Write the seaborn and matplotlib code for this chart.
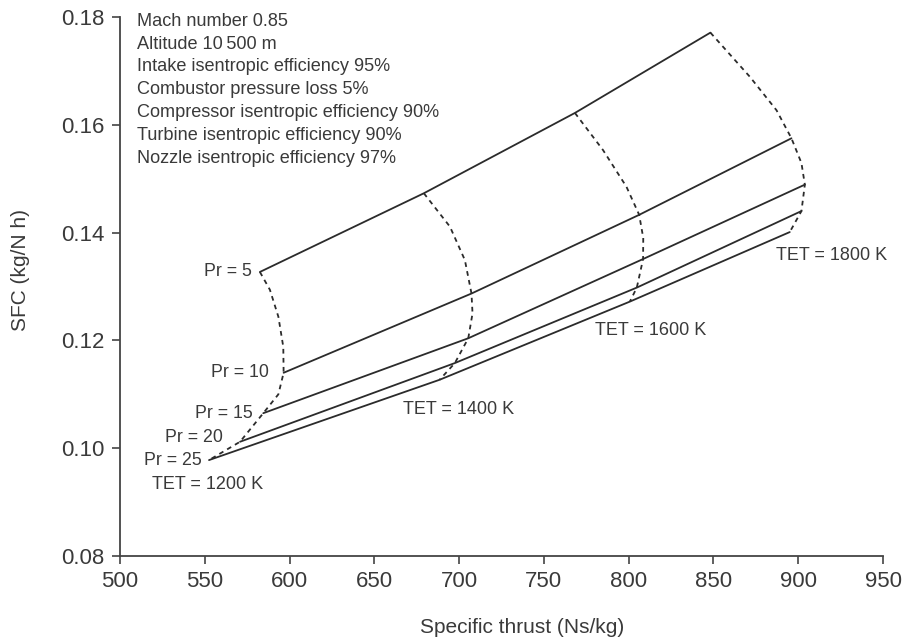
import matplotlib
matplotlib.use("Agg")
import matplotlib.pyplot as plt
import pandas as pd
import seaborn as sns

# Carpet plot: turbojet SFC vs specific thrust for a grid of
# compressor pressure ratio (solid) and turbine entry temperature (dashed).

PRESSURE_RATIOS = [5, 10, 15, 20, 25]
TURBINE_TEMPS = [1200, 1400, 1600, 1800]

# specific thrust (Ns/kg) and SFC (kg/N h) at TET = 1200, 1400, 1600, 1800 K
THRUST_PR5 = [582.5, 679.2, 768.3, 848.2]
THRUST_PR10 = [596.5, 707.3, 806.2, 896.0]
THRUST_PR15 = [584.5, 705.4, 808.5, 903.9]
THRUST_PR20 = [570.8, 697.5, 804.8, 901.9]
THRUST_PR25 = [552.5, 688.5, 800.7, 895.0]

SFC_PR5 = [0.1327, 0.1473, 0.1622, 0.1771]
SFC_PR10 = [0.1140, 0.1287, 0.1433, 0.1575]
SFC_PR15 = [0.1065, 0.1204, 0.1351, 0.1489]
SFC_PR20 = [0.1012, 0.1158, 0.1298, 0.1440]
SFC_PR25 = [0.0978, 0.1127, 0.1272, 0.1401]

# constant-TET curves (Pr = 5 -> 25)
TET1200_THRUST = [582.5, 588.4, 593.4, 596.3, 596.5, 593.4, 584.5, 570.8, 552.5]
TET1200_SFC = [0.1327, 0.1294, 0.1244, 0.1188, 0.1140, 0.1100, 0.1065, 0.1012, 0.0978]
TET1400_THRUST = [679.2, 694.6, 703.4, 707.3, 707.9, 705.4, 697.5, 688.5]
TET1400_SFC = [0.1473, 0.1411, 0.1349, 0.1287, 0.1250, 0.1204, 0.1158, 0.1127]
TET1600_THRUST = [768.3, 784.9, 798.7, 806.2, 808.6, 808.5, 804.8, 800.7]
TET1600_SFC = [0.1622, 0.1553, 0.1485, 0.1433, 0.1390, 0.1351, 0.1298, 0.1272]
TET1800_THRUST = [848.2, 871.5, 887.2, 896.0, 901.9, 903.9, 901.9, 895.0]
TET1800_SFC = [0.1771, 0.1689, 0.1627, 0.1575, 0.1529, 0.1489, 0.1440, 0.1401]

CONDITIONS = [
    "Mach number 0.85",
    "Altitude 10\u2009500 m",
    "Intake isentropic efficiency 95%",
    "Combustor pressure loss 5%",
    "Compressor isentropic efficiency 90%",
    "Turbine isentropic efficiency 90%",
    "Nozzle isentropic efficiency 97%",
]

thrust_by_pr = [THRUST_PR5, THRUST_PR10, THRUST_PR15, THRUST_PR20, THRUST_PR25]
sfc_by_pr = [SFC_PR5, SFC_PR10, SFC_PR15, SFC_PR20, SFC_PR25]
tet_thrust = [TET1200_THRUST, TET1400_THRUST, TET1600_THRUST, TET1800_THRUST]
tet_sfc = [TET1200_SFC, TET1400_SFC, TET1600_SFC, TET1800_SFC]

pr_df = pd.concat(
    [pd.DataFrame({"thrust": t, "sfc": s, "pr": pr})
     for pr, t, s in zip(PRESSURE_RATIOS, thrust_by_pr, sfc_by_pr)],
    ignore_index=True,
)
tet_df = pd.concat(
    [pd.DataFrame({"thrust": t, "sfc": s, "tet": tet})
     for tet, t, s in zip(TURBINE_TEMPS, tet_thrust, tet_sfc)],
    ignore_index=True,
)

sns.set_theme(style="ticks")
plt.rcParams["font.family"] = ["Liberation Sans", "DejaVu Sans"]
INK = "#2b2b2b"
TXT = "#3a3a3a"

fig = plt.figure(figsize=(9.05, 6.44), dpi=100)
ax = fig.add_axes([0.1326, 0.1366, 0.8431, 0.837])

sns.lineplot(data=pr_df, x="thrust", y="sfc", units="pr", estimator=None,
             sort=False, color=INK, linewidth=1.3, ax=ax)
sns.lineplot(data=tet_df, x="thrust", y="sfc", units="tet", estimator=None,
             sort=False, color=INK, linewidth=1.3, ax=ax)
for line in ax.get_lines()[len(PRESSURE_RATIOS):]:
    line.set_dashes((2.6, 2.4))

ax.set_xlim(500, 950)
ax.set_ylim(0.08, 0.18)
ax.set_xticks(range(500, 951, 50))
ax.set_yticks([0.08, 0.10, 0.12, 0.14, 0.16, 0.18])
ax.set_yticklabels([f"{v:.2f}" for v in [0.08, 0.10, 0.12, 0.14, 0.16, 0.18]])
sns.despine(ax=ax)
for side in ("left", "bottom"):
    ax.spines[side].set_color("#444444")
    ax.spines[side].set_linewidth(1.3)
ax.tick_params(axis="both", direction="out", length=6, width=1.2,
               color="#444444", labelsize=16, labelcolor=TXT, pad=5)

ax.set_xlabel("Specific thrust (Ns/kg)", fontsize=15, color=TXT)
ax.set_ylabel("SFC (kg/N h)", fontsize=15, color=TXT)
ax.xaxis.set_label_coords(0.527, -0.115)
ax.yaxis.set_label_coords(-0.118, 0.53)

# pressure ratio labels at the low-TET end of each solid line
pr_offsets = [(-8, 0), (-15, 0), (-11, 0), (-17, 4), (-7, 0)]
for pr, t, s, (dx, dy) in zip(PRESSURE_RATIOS, thrust_by_pr, sfc_by_pr, pr_offsets):
    ax.annotate(f"Pr = {pr}", xy=(t[0], s[0]), xytext=(dx, dy),
                textcoords="offset pixels", ha="right", va="center",
                fontsize=12.8, color=TXT)

# turbine entry temperature labels below each dashed curve
tet_label_pos = [(519, 0.0932), (667, 0.1071), (780, 0.1219), (887, 0.1358)]
for tet, (x, y) in zip(TURBINE_TEMPS, tet_label_pos):
    ax.text(x, y, f"TET = {tet} K", ha="left", va="center",
            fontsize=13, color=TXT)

ax.text(0.022, 1.008, "\n".join(CONDITIONS), transform=ax.transAxes,
        ha="left", va="top", fontsize=13.1, color=TXT, linespacing=1.45)

fig.savefig("out.png", dpi=100)
